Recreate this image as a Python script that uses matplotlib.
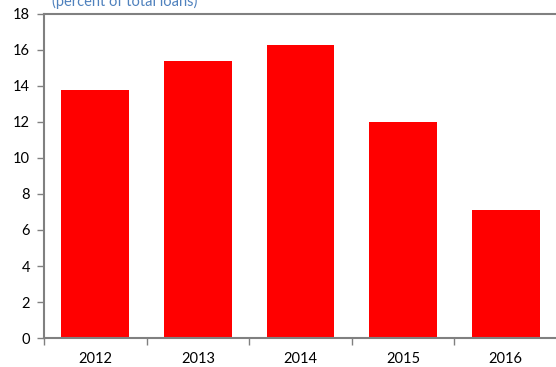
import matplotlib
matplotlib.use("Agg")
import matplotlib.pyplot as plt

years = ["2012", "2013", "2014", "2015", "2016"]
share = [13.8, 15.4, 16.3, 12.0, 7.1]

plt.rcParams['font.family'] = ['Lato', 'DejaVu Sans']

fig = plt.figure(figsize=(5.56, 3.67), dpi=100)
ax = fig.add_axes([44/556, 29/367, 513/556, 324/367])

x = range(len(years))
ax.bar(x, share, width=0.66, color='#ff0000', zorder=2)

ax.set_xlim(-0.5, len(years) - 0.5)
ax.set_ylim(0, 18)
ax.set_yticks(range(0, 19, 2))
# category boundaries carry the tick marks, labels sit at the centres
ax.set_xticks([i - 0.5 for i in range(len(years) + 1)])
ax.set_xticklabels([])
ax.set_xticks(list(x), minor=True)
ax.set_xticklabels(years, minor=True)
ax.tick_params(axis='x', which='minor', length=0, pad=10, labelsize=10.5)
ax.tick_params(axis='x', which='major', length=5, direction='out', color='#808080', width=1)
ax.tick_params(axis='y', length=5, direction='out', color='#808080', width=1, labelsize=10.5, pad=5)

for side in ['left', 'bottom', 'top']:
    ax.spines[side].set_color('#808080')
    ax.spines[side].set_linewidth(1.5)
ax.spines['right'].set_visible(False)

fig.text(52/556, 1 - 1/367, "(percent of total loans)", color='#4f81bd',
         fontsize=10.5, ha='left', va='center')

fig.savefig("out.png", dpi=100)
